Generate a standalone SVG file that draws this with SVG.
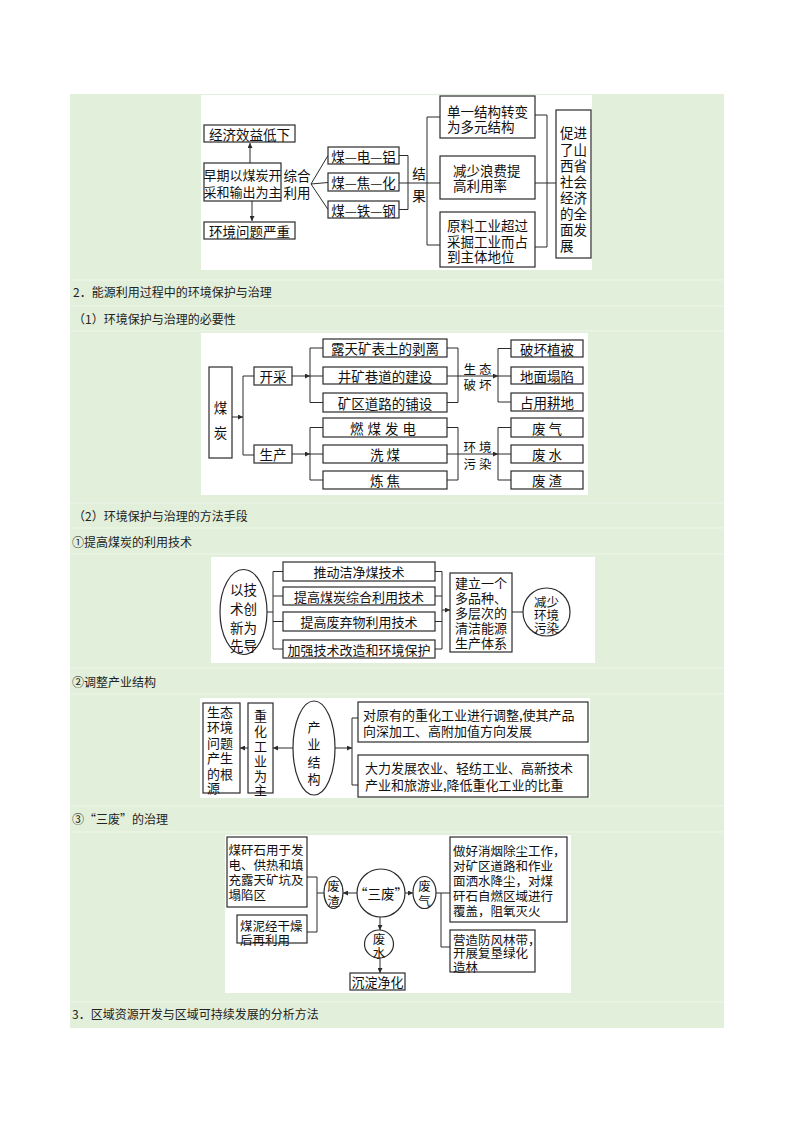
<svg xmlns="http://www.w3.org/2000/svg" width="794" height="1123" viewBox="0 0 794 1123">
<style>
.bg{fill:#e2efda}
.sep{stroke:#eef6ea;stroke-width:1}
.wh{fill:#fff}
.bx{fill:#fff;stroke:#2b2b2b;stroke-width:1.2}
.el{fill:#fff;stroke:#2b2b2b;stroke-width:1.2}
.ln{fill:none;stroke:#2b2b2b;stroke-width:1}
.ar{fill:none;stroke:#2b2b2b;stroke-width:1;marker-end:url(#ah)}
text{font-family:"Noto Sans CJK SC","Noto Sans",sans-serif;fill:#111;dominant-baseline:central}
tspan{dominant-baseline:central}
.t{font-size:13.5px}
.t13{font-size:13px}
.t12{font-size:12.5px}
.c{text-anchor:middle}
.h{font-size:12px;fill:#222}
</style>
<defs>
<marker id="ah" viewBox="0 0 6 6" refX="6" refY="3" markerWidth="6" markerHeight="5" markerUnits="userSpaceOnUse" orient="auto">
<path d="M0,0 L6,3 L0,6 z" fill="#2b2b2b"/>
</marker>
</defs>
<rect class="bg" x="70" y="94" width="654" height="934"/>
<g id="separators">
<line class="sep" x1="70" y1="280" x2="724" y2="280"/>
<line class="sep" x1="70" y1="306" x2="724" y2="306"/>
<line class="sep" x1="70" y1="331" x2="724" y2="331"/>
<line class="sep" x1="70" y1="503" x2="724" y2="503"/>
<line class="sep" x1="70" y1="528" x2="724" y2="528"/>
<line class="sep" x1="70" y1="554" x2="724" y2="554"/>
<line class="sep" x1="70" y1="668" x2="724" y2="668"/>
<line class="sep" x1="70" y1="694" x2="724" y2="694"/>
<line class="sep" x1="70" y1="806" x2="724" y2="806"/>
<line class="sep" x1="70" y1="832" x2="724" y2="832"/>
<line class="sep" x1="70" y1="1002" x2="724" y2="1002"/>
</g>
<g id="headings">
<text class="h" x="73" y="291">2．能源利用过程中的环境保护与治理</text>
<text class="h" x="73" y="318">（1）环境保护与治理的必要性</text>
<text class="h" x="73" y="515">（2）环境保护与治理的方法手段</text>
<text class="h" x="72" y="541">①提高煤炭的利用技术</text>
<text class="h" x="72" y="681">②调整产业结构</text>
<text class="h" x="72" y="818">③“三废”的治理</text>
<text class="h" x="72" y="1013">3．区域资源开发与区域可持续发展的分析方法</text>
</g>

<!-- Diagram 1 -->
<rect class="wh" x="201" y="95" width="391" height="175"/>
<g id="d1-connectors">
<line class="ar" x1="250" y1="163" x2="250" y2="143"/>
<line class="ar" x1="252" y1="201" x2="252" y2="221"/>
<path class="ln" d="M311,184 L328,155.5 M311,184 L328,182.5 M311,184 L328,209.5"/>
<path class="ln" d="M399,155.5 H408 V209.5 H399 M399,183 H440"/>
<path class="ln" d="M440,117 H427 V245 H440"/>
<path class="ln" d="M535,115 H547 V247 H535 M535,183 H556"/>
</g>
<g id="n-jjxy"><rect class="bx" x="204" y="125" width="91" height="17"/><text class="t c" x="249.5" y="133.5">经济效益低下</text></g>
<g id="n-zqymt"><rect class="bx" x="204" y="163" width="77" height="38"/><text class="t13 c"><tspan x="242.5" y="173.5">早期以煤炭开</tspan><tspan x="242.5" y="191">采和输出为主</tspan></text></g>
<g id="n-hjwt"><rect class="bx" x="204" y="222" width="91" height="17"/><text class="t c" x="249.5" y="230.5">环境问题严重</text></g>
<g id="n-zhly"><text class="t c"><tspan x="297" y="175">综合</tspan><tspan x="297" y="192">利用</tspan></text></g>
<g id="n-mdl"><rect class="bx" x="328" y="147" width="71" height="17"/><text class="t c" x="363.5" y="155.5">煤—电—铝</text></g>
<g id="n-mjh"><rect class="bx" x="328" y="173" width="71" height="18"/><text class="t c" x="363.5" y="182">煤—焦—化</text></g>
<g id="n-mtg"><rect class="bx" x="328" y="201" width="71" height="17"/><text class="t c" x="363.5" y="209.5">煤—铁—钢</text></g>
<g id="n-jg"><text class="t c"><tspan x="419" y="173">结</tspan><tspan x="419" y="195">果</tspan></text></g>
<g id="n-dyjg"><rect class="bx" x="440" y="96" width="95" height="42"/><text class="t"><tspan x="447" y="111">单一结构转变</tspan><tspan x="447" y="126">为多元结构</tspan></text></g>
<g id="n-jslf"><rect class="bx" x="440" y="156" width="95" height="43"/><text class="t"><tspan x="453" y="170">减少浪费提</tspan><tspan x="453" y="185">高利用率</tspan></text></g>
<g id="n-ylgy"><rect class="bx" x="440" y="212" width="95" height="55"/><text class="t"><tspan x="447" y="225">原料工业超过</tspan><tspan x="447" y="240.5">采掘工业而占</tspan><tspan x="447" y="256">到主体地位</tspan></text></g>
<g id="n-cj"><rect class="bx" x="556" y="110" width="35" height="148"/>
<text class="t"><tspan x="560" y="132">促进</tspan><tspan x="560" y="148.5">了山</tspan><tspan x="560" y="165">西省</tspan><tspan x="560" y="181">社会</tspan><tspan x="560" y="197">经济</tspan><tspan x="560" y="213">的全</tspan><tspan x="560" y="229">面发</tspan><tspan x="560" y="244.5">展</tspan></text></g>

<!-- Diagram 2 -->
<rect class="wh" x="201" y="333" width="387" height="162"/>
<g id="d2-connectors">
<line class="ar" x1="232" y1="417" x2="243" y2="417"/>
<path class="ln" d="M254,376 H243 V455 H254"/>
<line class="ar" x1="292" y1="376" x2="310" y2="376"/>
<path class="ln" d="M323,348 H310 V402.5 H323 M310,376 H323"/>
<path class="ln" d="M447,348 H458 V402.5 H447"/>
<line class="ar" x1="447" y1="376" x2="498" y2="376"/>
<path class="ln" d="M511,348.5 H498 V402 H511 M498,376 H511"/>
<line class="ar" x1="292" y1="454" x2="310" y2="454"/>
<path class="ln" d="M323,427.5 H310 V480 H323 M310,454 H323"/>
<path class="ln" d="M447,427.5 H458 V480 H447"/>
<line class="ar" x1="447" y1="454" x2="498" y2="454"/>
<path class="ln" d="M511,427.5 H498 V480 H511 M498,454 H511"/>
</g>
<g id="n-mt"><rect class="bx" x="209" y="367" width="23" height="91"/><text class="t c"><tspan x="220.5" y="407">煤</tspan><tspan x="220.5" y="432">炭</tspan></text></g>
<g id="n-kc"><rect class="bx" x="254" y="367" width="38" height="18"/><text class="t c" x="273" y="376">开采</text></g>
<g id="n-sc"><rect class="bx" x="254" y="445" width="38" height="18"/><text class="t c" x="273" y="454">生产</text></g>
<g id="n-ltk"><rect class="bx" x="323" y="339" width="124" height="18"/><text class="t c" x="385" y="348">露天矿表土的剥离</text></g>
<g id="n-jkxd"><rect class="bx" x="323" y="367" width="124" height="17"/><text class="t c" x="385" y="375.5">井矿巷道的建设</text></g>
<g id="n-kqdl"><rect class="bx" x="323" y="393" width="124" height="19"/><text class="t c" x="385" y="402.5">矿区道路的铺设</text></g>
<g id="n-stph"><text class="t12 c"><tspan x="477.5" y="367.5">生 态</tspan><tspan x="477.5" y="384">破 坏</tspan></text></g>
<g id="n-phzb"><rect class="bx" x="511" y="340" width="72" height="17"/><text class="t c" x="547" y="348.5">破坏植被</text></g>
<g id="n-dmtx"><rect class="bx" x="511" y="367" width="72" height="17"/><text class="t c" x="547" y="375.5">地面塌陷</text></g>
<g id="n-zygd"><rect class="bx" x="511" y="393" width="72" height="18"/><text class="t c" x="547" y="402">占用耕地</text></g>
<g id="n-rmfd"><rect class="bx" x="323" y="418" width="124" height="19"/><text class="t c" x="385" y="427.5" letter-spacing="4">燃煤发电</text></g>
<g id="n-xm"><rect class="bx" x="323" y="445" width="124" height="18"/><text class="t c" x="385" y="454">洗 煤</text></g>
<g id="n-lj"><rect class="bx" x="323" y="471" width="124" height="18"/><text class="t c" x="385" y="480">炼 焦</text></g>
<g id="n-hjwr"><text class="t12 c"><tspan x="477.5" y="446">环 境</tspan><tspan x="477.5" y="462.5">污 染</tspan></text></g>
<g id="n-fq"><rect class="bx" x="511" y="418" width="72" height="19"/><text class="t c" x="547" y="427.5">废 气</text></g>
<g id="n-fs"><rect class="bx" x="511" y="445" width="72" height="18"/><text class="t c" x="547" y="454">废 水</text></g>
<g id="n-fz"><rect class="bx" x="511" y="471" width="72" height="18"/><text class="t c" x="547" y="480">废 渣</text></g>

<!-- Diagram 3 -->
<rect class="wh" x="211" y="557" width="384" height="106"/>
<g id="d3-connectors">
<line class="ln" x1="267" y1="612" x2="273" y2="612"/>
<path class="ln" d="M283,571.5 H273 V649 H283 M273,596 H283 M273,621.5 H283"/>
<path class="ln" d="M435,571.5 H442 V649 H435 M435,596 H442 M435,621.5 H442"/>
<line class="ar" x1="442" y1="610" x2="450" y2="610"/>
<line class="ln" x1="512" y1="612" x2="523" y2="612"/>
</g>
<g id="n-yjs"><ellipse class="el" cx="243.5" cy="612" rx="23.5" ry="42.5"/><text class="t c"><tspan x="243.5" y="589">以技</tspan><tspan x="243.5" y="608">术创</tspan><tspan x="243.5" y="627">新为</tspan><tspan x="243.5" y="645">先导</tspan></text></g>
<g id="n-tdjj"><rect class="bx" x="283" y="562" width="152" height="19"/><text class="t13 c" x="359" y="571.5">推动洁净煤技术</text></g>
<g id="n-tgmt"><rect class="bx" x="283" y="587" width="152" height="18"/><text class="t13 c" x="359" y="596">提高煤炭综合利用技术</text></g>
<g id="n-tgfq"><rect class="bx" x="283" y="612" width="152" height="19"/><text class="t13 c" x="359" y="621.5">提高废弃物利用技术</text></g>
<g id="n-jqjs"><rect class="bx" x="283" y="640" width="152" height="18"/><text class="t13 c" x="359" y="649">加强技术改造和环境保护</text></g>
<g id="n-jlyg"><rect class="bx" x="450" y="573" width="62" height="79"/><text class="t13"><tspan x="455" y="582">建立一个</tspan><tspan x="455" y="597">多品种、</tspan><tspan x="455" y="612">多层次的</tspan><tspan x="455" y="627">清洁能源</tspan><tspan x="455" y="642">生产体系</tspan></text></g>
<g id="n-jshj"><ellipse class="el" cx="546.5" cy="612" rx="23.5" ry="24"/><text class="t12 c"><tspan x="546.5" y="601">减少</tspan><tspan x="546.5" y="614">环境</tspan><tspan x="546.5" y="627">污染</tspan></text></g>

<!-- Diagram 4 -->
<rect class="wh" x="200" y="698" width="390" height="100"/>
<g id="d4-connectors">
<line class="ar" x1="248" y1="748" x2="240" y2="748"/>
<line class="ar" x1="293" y1="748" x2="273" y2="748"/>
<line class="ar" x1="335" y1="748" x2="352" y2="748"/>
<path class="ln" d="M358,718 H352 V785 H358"/>
</g>
<g id="n-sthj"><rect class="bx" x="203" y="703" width="37" height="90"/><text class="t13"><tspan x="207" y="710.5">生态</tspan><tspan x="207" y="726">环境</tspan><tspan x="207" y="741.5">问题</tspan><tspan x="207" y="757">产生</tspan><tspan x="207" y="772.5">的根</tspan><tspan x="207" y="787">源</tspan></text></g>
<g id="n-zhgy"><rect class="bx" x="248" y="703" width="25" height="90"/><text class="t13 c"><tspan x="260.5" y="715">重</tspan><tspan x="260.5" y="730">化</tspan><tspan x="260.5" y="745">工</tspan><tspan x="260.5" y="760">业</tspan><tspan x="260.5" y="775">为</tspan><tspan x="260.5" y="789">主</tspan></text></g>
<g id="n-cyjg"><ellipse class="el" cx="314" cy="748" rx="21" ry="47"/><text class="t13 c"><tspan x="314" y="726">产</tspan><tspan x="314" y="743">业</tspan><tspan x="314" y="761">结</tspan><tspan x="314" y="778">构</tspan></text></g>
<g id="n-dyy"><rect class="bx" x="358" y="702" width="230" height="40"/><text class="t13"><tspan x="363" y="713.5">对原有的重化工业进行调整,使其产品</tspan><tspan x="363" y="730">向深加工、高附加值方向发展</tspan></text></g>
<g id="n-dlfz"><rect class="bx" x="358" y="755" width="230" height="42"/><text class="t13"><tspan x="365" y="767">大力发展农业、轻纺工业、高新技术</tspan><tspan x="365" y="783.5">产业和旅游业,降低重化工业的比重</tspan></text></g>

<!-- Diagram 5 -->
<rect class="wh" x="225" y="835" width="346" height="158"/>
<g id="d5-connectors">
<path class="ln" d="M307,877 H317 V932 H307 M317,893 H324"/>
<line class="ar" x1="357" y1="893" x2="343" y2="893"/>
<line class="ar" x1="405" y1="893" x2="413" y2="893"/>
<path class="ln" d="M436,893 H450 M441,893 V947 H450"/>
<line class="ar" x1="380" y1="917" x2="380" y2="930"/>
<line class="ar" x1="380" y1="958" x2="380" y2="973"/>
</g>
<g id="n-mgs"><rect class="bx" x="227" y="837" width="80" height="70"/><text class="t12"><tspan x="228.5" y="848.5">煤矸石用于发</tspan><tspan x="228.5" y="863.5">电、供热和填</tspan><tspan x="228.5" y="878.5">充露天矿坑及</tspan><tspan x="228.5" y="893.5">塌陷区</tspan></text></g>
<g id="n-mn"><rect class="bx" x="237" y="915" width="70" height="28"/><text class="t12"><tspan x="240" y="925">煤泥经干燥</tspan><tspan x="240" y="938.5">后再利用</tspan></text></g>
<g id="n-fzh"><ellipse class="el" cx="333.5" cy="892.5" rx="9.5" ry="16"/><text class="t12 c"><tspan x="333.5" y="885">废</tspan><tspan x="333.5" y="900">渣</tspan></text></g>
<g id="n-sf"><circle class="el" cx="381" cy="893" r="24"/><text class="t c" x="381" y="893">“三废”</text></g>
<g id="n-fqi"><ellipse class="el" cx="424.5" cy="892.5" rx="11.5" ry="16"/><text class="t12 c"><tspan x="424.5" y="885">废</tspan><tspan x="424.5" y="900">气</tspan></text></g>
<g id="n-zhxy"><rect class="bx" x="450" y="837" width="117" height="85"/><text class="t12"><tspan x="453" y="850">做好消烟除尘工作，</tspan><tspan x="453" y="865">对矿区道路和作业</tspan><tspan x="453" y="880">面洒水降尘，对煤</tspan><tspan x="453" y="895">矸石自燃区域进行</tspan><tspan x="453" y="910">覆盖，阻氧灭火</tspan></text></g>
<g id="n-yzff"><rect class="bx" x="450" y="930" width="85" height="42"/><text class="t12"><tspan x="453" y="938.5">营造防风林带，</tspan><tspan x="453" y="952">开展复垦绿化</tspan><tspan x="453" y="965.5">造林</tspan></text></g>
<g id="n-fsh"><ellipse class="el" cx="379" cy="944" rx="14.5" ry="14"/><text class="t12 c"><tspan x="379" y="937.5">废</tspan><tspan x="379" y="951.5">水</tspan></text></g>
<g id="n-cdjh"><rect class="bx" x="350" y="973" width="55" height="17"/><text class="t13 c" x="377.5" y="981.5">沉淀净化</text></g>
</svg>
